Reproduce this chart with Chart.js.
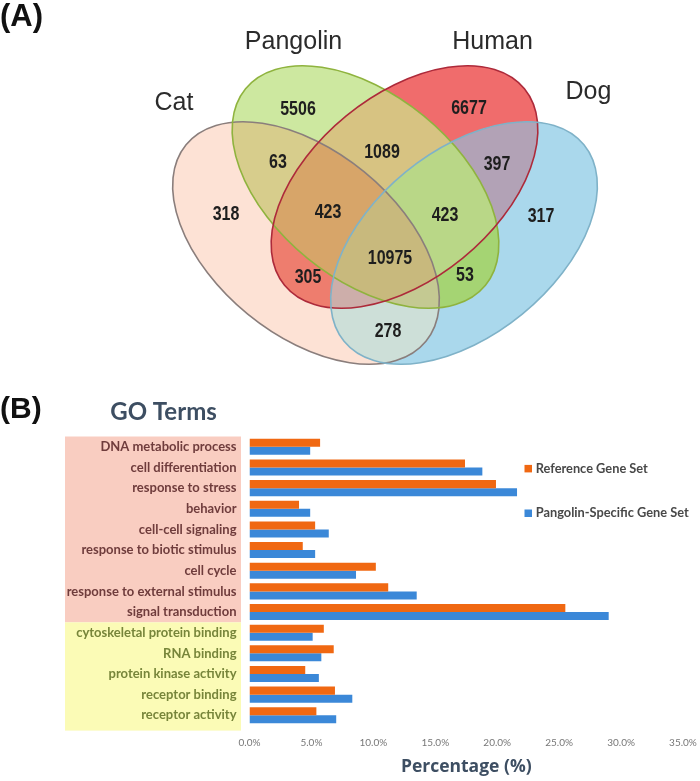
<!DOCTYPE html>
<html>
<head>
<meta charset="utf-8">
<script src="https://cdn.jsdelivr.net/npm/chart.js@4.4.1/dist/chart.umd.min.js"></script>
<style>
  body { margin: 0; background: #fff; width: 700px; height: 781px; position: relative; overflow: hidden; }
  #venn { position: absolute; left: 0; top: 0; }
  #bars { position: absolute; left: 0; top: 390px; }
</style>
</head>
<body>
<canvas id="venn" width="700" height="390"></canvas>
<canvas id="bars" width="700" height="391"></canvas>
<script>
// ---- panel A data ----
const setNames = ['Cat', 'Pangolin', 'Human', 'Dog'];
const regionKeys = ['C', 'P', 'H', 'D', 'CP', 'PH', 'HD', 'CH', 'PD', 'CD', 'CPH', 'PHD', 'CPHD'];
const regionCounts = [318, 5506, 6677, 317, 63, 1089, 397, 305, 53, 278, 423, 423, 10975];

// ---- panel B data ----
const goTerms = [
  'DNA metabolic process', 'cell differentiation', 'response to stress', 'behavior',
  'cell-cell signaling', 'response to biotic stimulus', 'cell cycle',
  'response to external stimulus', 'signal transduction',
  'cytoskeletal protein binding', 'RNA binding', 'protein kinase activity',
  'receptor binding', 'receptor activity'
];
const termGroup = ['process', 'process', 'process', 'process', 'process', 'process', 'process',
  'process', 'process', 'function', 'function', 'function', 'function', 'function'];
const referenceSet = [5.7, 17.4, 19.9, 4.0, 5.3, 4.3, 10.2, 11.2, 25.5, 6.0, 6.8, 4.5, 6.9, 5.4];
const pangolinSet = [4.9, 18.8, 21.6, 4.9, 6.4, 5.3, 8.6, 13.5, 29.0, 5.1, 5.8, 5.6, 8.3, 7.0];
const xTickValues = [0, 5, 10, 15, 20, 25, 30, 35];
const xTickLabels = ['0.0%', '5.0%', '10.0%', '15.0%', '20.0%', '25.0%', '30.0%', '35.0%'];

// ---- venn layout (in venn scale units) ----
const tilt = 39.3 * Math.PI / 180;
const ellipses = [
  { key: 'C', cx: 306, cy: 243, a: 155, b: 92, rot: tilt, line: '#8a7e7c' },
  { key: 'P', cx: 365.5, cy: 187, a: 155, b: 92, rot: tilt, line: '#8fb33e' },
  { key: 'H', cx: 404.5, cy: 187, a: 155, b: 92, rot: -tilt, line: '#ad2a3a' },
  { key: 'D', cx: 464, cy: 243, a: 155, b: 92, rot: -tilt, line: '#7fb2c8' }
];
// fill of every area of the diagram, keyed by the sets it lies in
const areaFill = {
  C: '#fde2d5', P: '#cde8a0', H: '#f06c6c', D: '#aad8ec',
  CP: '#d7cd8c', PH: '#d7c382', HD: '#b2a2b6', CH: '#ee7d6e', PD: '#a5d473', CD: '#cddfd8',
  CPH: '#d7a569', PHD: '#b9d787', CHD: '#cdaeaa', CPD: '#c4c992', CPHD: '#c8b97d'
};
const nameSpot = [[174, 110], [293.5, 49], [492.5, 49], [588.5, 99]];
const regionSpot = {
  C: [226, 213], P: [298, 108], H: [469, 107], D: [541, 215],
  CP: [278, 161], PH: [382, 151], HD: [497, 163], CH: [308, 276],
  PD: [465, 274], CD: [388, 330], CPH: [328, 211], PHD: [445, 214], CPHD: [390, 257]
};

const vennPlugin = {
  id: 'vennShapes',
  beforeDatasetsDraw(chart) {
    const { ctx, width, height, scales: { x, y } } = chart;
    const k = Math.abs(x.getPixelForValue(1) - x.getPixelForValue(0));
    const paths = {};
    ellipses.forEach(e => {
      const p = new Path2D();
      p.ellipse(x.getPixelForValue(e.cx), y.getPixelForValue(e.cy), e.a * k, e.b * k, e.rot, 0, Math.PI * 2);
      paths[e.key] = p;
    });
    Object.keys(areaFill).forEach(area => {
      ctx.save();
      ellipses.forEach(e => {
        if (area.includes(e.key)) {
          ctx.clip(paths[e.key]);
        } else {
          const out = new Path2D();
          out.rect(-10, -10, width + 20, height + 20);
          out.addPath(paths[e.key]);
          ctx.clip(out, 'evenodd');
        }
      });
      ctx.fillStyle = areaFill[area];
      ctx.fillRect(0, 0, width, height);
      ctx.restore();
    });
    ctx.save();
    ctx.lineWidth = 1.6;
    ellipses.forEach(e => {
      ctx.strokeStyle = e.line;
      ctx.stroke(paths[e.key]);
    });
    ctx.fillStyle = '#2b2b2b';
    ctx.font = '25px "Liberation Sans", Arial, sans-serif';
    ctx.textAlign = 'center';
    ctx.textBaseline = 'alphabetic';
    setNames.forEach((n, i) => {
      ctx.fillText(n, x.getPixelForValue(nameSpot[i][0]), y.getPixelForValue(nameSpot[i][1]));
    });
    ctx.fillStyle = '#111';
    ctx.font = 'bold 31px "Liberation Sans", Arial, sans-serif';
    ctx.textAlign = 'left';
    ctx.fillText('(A)', 0, 26);
    ctx.restore();
  },
  afterDatasetsDraw(chart) {
    const { ctx } = chart;
    const meta = chart.getDatasetMeta(0);
    ctx.save();
    ctx.fillStyle = '#1e1e1e';
    ctx.font = 'bold 20px "Liberation Sans", Arial, sans-serif';
    ctx.textAlign = 'center';
    ctx.textBaseline = 'middle';
    meta.data.forEach((pt, i) => {
      ctx.save();
      ctx.translate(pt.x, pt.y);
      ctx.scale(0.8, 1);
      ctx.fillText(String(regionCounts[i]), 0, 1);
      ctx.restore();
    });
    ctx.restore();
  }
};

new Chart(document.getElementById('venn'), {
  type: 'scatter',
  data: {
    datasets: [{
      data: regionKeys.map(k => ({ x: regionSpot[k][0], y: regionSpot[k][1] })),
      pointRadius: 0
    }]
  },
  options: {
    responsive: false,
    animation: false,
    layout: { padding: 0 },
    plugins: { legend: { display: false }, tooltip: { enabled: false } },
    scales: {
      x: { type: 'linear', min: 0, max: 700, display: false },
      y: { type: 'linear', min: 0, max: 390, reverse: true, display: false }
    }
  },
  plugins: [vennPlugin]
});

// ---- panel B ----
const groupFill = { process: '#f9cdc1', function: '#fbfbb6' };
const groupText = { process: '#6f3c3c', function: '#77853a' };

const bandPlugin = {
  id: 'termBands',
  beforeDraw(chart) {
    const { ctx, scales: { y } } = chart;
    const half = (y.getPixelForValue(1) - y.getPixelForValue(0)) / 2;
    ctx.save();
    let start = 0;
    for (let i = 1; i <= goTerms.length; i++) {
      if (i === goTerms.length || termGroup[i] !== termGroup[start]) {
        const top = y.getPixelForValue(start) - half;
        let bottom = y.getPixelForValue(i - 1) + half;
        if (i === goTerms.length) bottom += 5;
        ctx.fillStyle = groupFill[termGroup[start]];
        ctx.fillRect(65, top, 176, bottom - top);
        start = i;
      }
    }
    ctx.fillStyle = '#111';
    ctx.font = 'bold 30px "Liberation Sans", Arial, sans-serif';
    ctx.textAlign = 'left';
    ctx.textBaseline = 'alphabetic';
    ctx.fillText('(B)', 0, 28);
    ctx.fillStyle = '#3d4e62';
    ctx.font = 'bold 24px Lato, sans-serif';
    ctx.textAlign = 'center';
    ctx.fillText('GO Terms', 163.5, 30);
    ctx.restore();
  },
  afterDraw(chart) {
    const { ctx } = chart;
    ctx.save();
    ctx.font = 'bold 12.8px Lato, sans-serif';
    ctx.textBaseline = 'middle';
    ctx.textAlign = 'left';
    const rows = [78.7, 123.3];
    chart.data.datasets.forEach((ds, i) => {
      ctx.fillStyle = ds.backgroundColor;
      ctx.fillRect(524.5, rows[i] - 3.8, 7.5, 7.5);
      ctx.fillStyle = '#484848';
      ctx.fillText(ds.label, 535.7, rows[i]);
    });
    ctx.restore();
  }
};

new Chart(document.getElementById('bars'), {
  type: 'bar',
  data: {
    labels: goTerms,
    datasets: [
      { label: 'Reference Gene Set', data: referenceSet, backgroundColor: '#f06812',
        categoryPercentage: 0.775, barPercentage: 1 },
      { label: 'Pangolin-Specific Gene Set', data: pangolinSet, backgroundColor: '#3b88d8',
        categoryPercentage: 0.775, barPercentage: 1 }
    ]
  },
  options: {
    indexAxis: 'y',
    responsive: false,
    animation: false,
    layout: { padding: { top: 46.5, right: 17, left: 0, bottom: 0 } },
    plugins: { legend: { display: false }, tooltip: { enabled: false } },
    scales: {
      x: {
        min: 0, max: 35,
        afterBuildTicks: s => { s.ticks = xTickValues.map(v => ({ value: v })); },
        afterFit: s => { s.height = 55.4; s.paddingLeft = 0; s.paddingRight = 0; },
        ticks: {
          callback: (v, i) => xTickLabels[i],
          color: '#777',
          font: { family: 'Lato', size: 10 },
          padding: 11,
          maxRotation: 0
        },
        grid: { display: false, drawTicks: false },
        border: { display: false },
        title: {
          display: true, text: 'Percentage (%)', color: '#3d4e62',
          font: { family: 'Open Sans', size: 17.5, weight: 'bold' },
          padding: { top: 0, bottom: 3 }
        }
      },
      y: {
        afterFit: s => { s.width = 249.5; s.paddingTop = 0; s.paddingBottom = 0; },
        ticks: {
          color: c => groupText[termGroup[c.index]],
          font: { family: 'Lato', size: 13, weight: 'bold' },
          padding: 13
        },
        grid: { display: false, drawTicks: false },
        border: { display: false }
      }
    }
  },
  plugins: [bandPlugin]
});
</script>
</body>
</html>
